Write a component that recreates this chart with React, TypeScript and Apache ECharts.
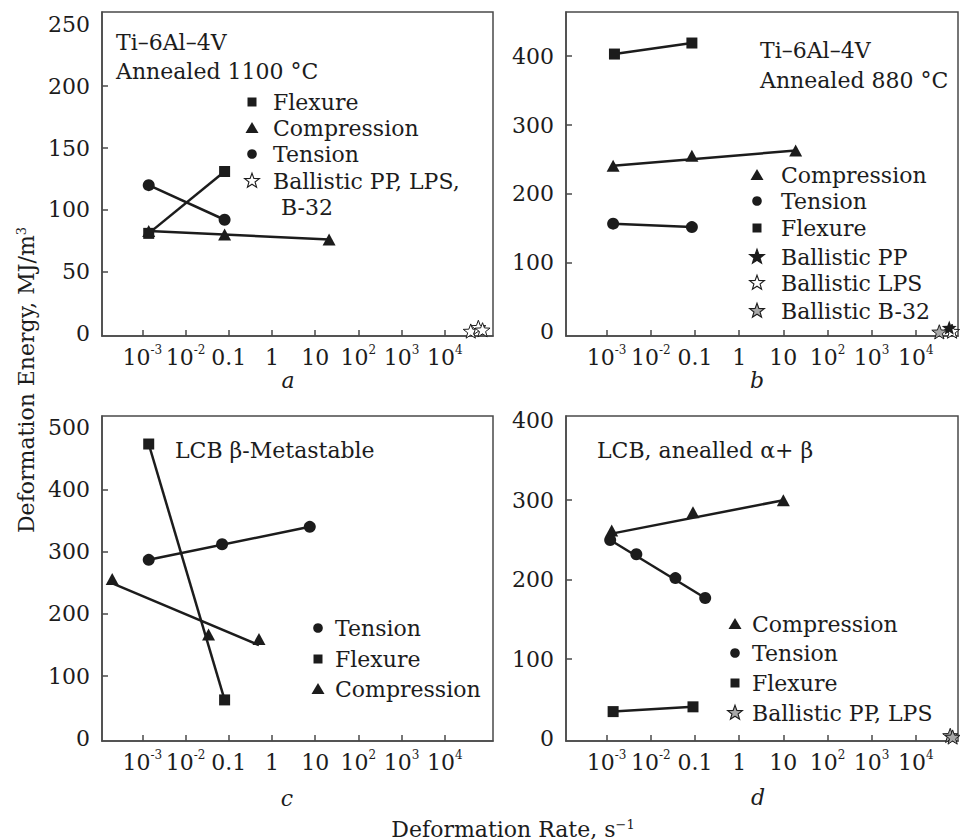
import React, { useEffect, useRef } from 'react';
import * as echarts from 'echarts';

const FONT = '"DejaVu Serif", "Liberation Serif", serif';
const INK = '#1c1c1c';
const AXIS = '#4a4a4a';
const GRAY = '#a8a8a8';
const FS = 22;

// ---- shared x axis (deformation rate, s^-1, log scale) ----
const xTickValues = [0.001, 0.01, 0.1, 1, 10, 100, 1000, 10000];
const xTickLabels = ['10{sup|-3}', '10{sup|-2}', '0.1', '1', '10', '10{sup|2}', '10{sup|3}', '10{sup|4}'];
const xRangeLeft = [1.16e-4, 1.31e5];
const xRangeRight = [1.2e-4, 9.0e4];

// ---- panel a: Ti-6Al-4V annealed 1100 °C ----
const aYRange = [-2, 260];
const aYTicks = [50, 100, 150, 200];
const aYLabels = [0, 50, 100, 150, 200, 250];
const aFlexure = [[0.0014, 81], [0.08, 131]];
const aCompression = [[0.0014, 83], [0.08, 80], [21, 76]];
const aTension = [[0.0014, 120], [0.08, 92]];
const aBallistic = [[40000, 2], [60000, 5], [75000, 3]];
const aTitle = ['Ti–6Al–4V', 'Annealed 1100 °C'];
const aLegend = ['Flexure', 'Compression', 'Tension', 'Ballistic PP, LPS,', 'B-32'];

// ---- panel b: Ti-6Al-4V annealed 880 °C ----
const bYRange = [-6, 464];
const bYTicks = [100, 200, 300, 400];
const bYLabels = [0, 100, 200, 300, 400];
const bCompression = [[0.0014, 241], [0.085, 255.5], [19, 263]];
const bTension = [[0.0014, 157], [0.085, 152]];
const bFlexure = [[0.0015, 403], [0.085, 419]];
const bBallisticPP = [[57000, 6]];
const bBallisticLPS = [[66000, 1]];
const bBallisticB32 = [[34000, 0]];
const bTitle = ['Ti–6Al–4V', 'Annealed 880 °C'];
const bLegend = ['Compression', 'Tension', 'Flexure', 'Ballistic PP', 'Ballistic LPS', 'Ballistic B-32'];

// ---- panel c: LCB beta-metastable ----
const cYRange = [-4, 518];
const cYTicks = [100, 200, 300, 400];
const cYLabels = [0, 100, 200, 300, 400, 500];
const cTension = [[0.0014, 287], [0.07, 312], [7.5, 340]];
const cFlexure = [[0.0014, 473], [0.08, 62]];
const cCompression = [[0.0002, 256], [0.034, 167], [0.5, 160]];
const cCompressionFit = [[0.00019, 250], [0.5, 150]];
const cTitle = 'LCB β-Metastable';
const cLegend = ['Tension', 'Flexure', 'Compression'];

// ---- panel d: LCB annealed alpha+beta ----
const dYRange = [-3, 406];
const dYTicks = [100, 200, 300];
const dYLabels = [0, 100, 200, 300, 400];
const dCompression = [[0.0013, 262], [0.09, 285], [10, 300]];
const dCompressionFit = [[0.0013, 258], [10, 300]];
const dTension = [[0.0012, 250], [0.0047, 232], [0.036, 202], [0.17, 177]];
const dFlexure = [[0.0014, 34], [0.09, 40]];
const dBallistic = [[60000, 4], [68000, 2]];
const dTitle = 'LCB, anealled α+ β';
const dLegend = ['Compression', 'Tension', 'Flexure', 'Ballistic PP, LPS'];

const panelLetters = ['a', 'b', 'c', 'd'];
const yTitle = 'Deformation Energy, MJ/m{sup|3}';
const xTitle = 'Deformation Rate, s{sup|−1}';

function starPoints(cx: number, cy: number, R: number, r: number) {
  const pts: number[][] = [];
  for (let k = 0; k < 10; k++) {
    const ang = -Math.PI / 2 + (k * Math.PI) / 5;
    const rad = k % 2 === 0 ? R : r;
    pts.push([cx + rad * Math.cos(ang), cy + rad * Math.sin(ang)]);
  }
  return pts;
}
const STAR_PATH =
  'path://' +
  starPoints(0, 0, 10, 4.1)
    .map((p, i) => (i ? 'L' : 'M') + p[0].toFixed(2) + ',' + p[1].toFixed(2))
    .join(' ') +
  ' Z';

const X_RICH = {
  b: { fontFamily: FONT, fontSize: FS, lineHeight: 26, color: INK },
  sup: { fontFamily: FONT, fontSize: 12, lineHeight: 9, verticalAlign: 'top', color: INK },
};

function fmtX(v: number) {
  const i = Math.round(Math.log10(v)) + 3;
  const s = xTickLabels[i];
  if (s === undefined) return '';
  return s.indexOf('{') >= 0 ? '{b|' + s.replace(/\{sup\|/, '}{sup|') : '{b|' + s + '}';
}

const GRIDS = [
  { left: 102, top: 12, width: 391, height: 324 },
  { left: 566, top: 12, width: 392, height: 324 },
  { left: 102, top: 416, width: 391, height: 325 },
  { left: 566, top: 416, width: 392, height: 325 },
];

function xAxisFor(i: number, range: number[]) {
  return {
    type: 'log',
    gridIndex: i,
    logBase: 10,
    min: range[0],
    max: range[1],
    axisLine: { show: true, onZero: false, lineStyle: { color: AXIS, width: 1.5 } },
    axisTick: { show: true, inside: true, length: 6, interval: 0, customValues: xTickValues, lineStyle: { color: AXIS, width: 1.5 } },
    axisLabel: {
      show: true,
      interval: 0,
      customValues: xTickValues,
      margin: 8,
      formatter: fmtX,
      rich: X_RICH,
      showMinLabel: true,
      showMaxLabel: true,
      hideOverlap: false,
    },
    splitLine: { show: false },
    minorTick: { show: false },
    minorSplitLine: { show: false },
  };
}

function yAxisFor(i: number, range: number[], ticks: number[], labels: number[]) {
  return {
    type: 'value',
    gridIndex: i,
    min: range[0],
    max: range[1],
    axisLine: { show: true, onZero: false, lineStyle: { color: AXIS, width: 1.5 } },
    axisTick: { show: true, inside: true, length: 6, customValues: ticks, lineStyle: { color: AXIS, width: 1.5 } },
    axisLabel: {
      show: true,
      interval: 0,
      customValues: labels,
      margin: 12,
      fontFamily: FONT,
      fontSize: FS,
      color: INK,
      showMinLabel: true,
      showMaxLabel: true,
      hideOverlap: false,
    },
    splitLine: { show: false },
  };
}

function fitLine(data: number[][], idx: number) {
  return {
    type: 'line',
    xAxisIndex: idx,
    yAxisIndex: idx,
    data: [data[0], data[data.length - 1]],
    symbol: 'none',
    silent: true,
    lineStyle: { color: INK, width: 2.5 },
    z: 2,
  };
}

function markers(name: string, data: number[][], idx: number, symbol: string, size: any, fill = INK) {
  return {
    type: 'scatter',
    name,
    xAxisIndex: idx,
    yAxisIndex: idx,
    data,
    symbol,
    symbolSize: size,
    symbolKeepAspect: true,
    clip: false,
    itemStyle: { color: fill, borderColor: INK, borderWidth: fill === INK ? 0 : 1, opacity: 1 },
    z: 3,
  };
}

const SQ = 11;
const CI = 12;
const TRI = [13, 12];
const ST = 15;

function txt(text: string, x: number, y: number, extra: any = {}) {
  return {
    type: 'text',
    x,
    y,
    silent: true,
    style: { text, x: 0, y: 0, fill: INK, fontFamily: FONT, fontSize: FS, align: 'left', verticalAlign: 'middle', ...extra },
  };
}

function mark(kind: string, cx: number, cy: number, fill = INK) {
  if (kind === 'square') return { type: 'rect', silent: true, shape: { x: cx - 4.5, y: cy - 4.5, width: 9, height: 9 }, style: { fill: INK } };
  if (kind === 'circle') return { type: 'circle', silent: true, shape: { cx, cy, r: 4.8 }, style: { fill: INK } };
  if (kind === 'triangle')
    return { type: 'polygon', silent: true, shape: { points: [[cx, cy - 6], [cx + 6.5, cy + 5], [cx - 6.5, cy + 5]] }, style: { fill: INK } };
  return { type: 'polygon', silent: true, shape: { points: starPoints(cx, cy, 7.8, 3.2) }, style: { fill, stroke: INK, lineWidth: 1.1 } };
}

function legendBlock(items: { kind: string; label: string; y: number; fill?: string }[], mx: number, tx: number) {
  const out: any[] = [];
  items.forEach((it) => {
    out.push(mark(it.kind, mx, it.y, it.fill));
    out.push(txt(it.label, tx, it.y));
  });
  return out;
}

const SUP_RICH = { sup: { fontFamily: FONT, fontSize: 13, lineHeight: 8, verticalAlign: 'top', fill: INK } };

function buildOption() {
  const series: any[] = [
    // a
    fitLine(aFlexure, 0), markers('a Flexure', aFlexure, 0, 'rect', SQ),
    fitLine(aCompression, 0), markers('a Compression', aCompression, 0, 'triangle', TRI),
    fitLine(aTension, 0), markers('a Tension', aTension, 0, 'circle', CI),
    markers('a Ballistic PP, LPS, B-32', aBallistic, 0, STAR_PATH, ST, '#ffffff'),
    // b
    fitLine(bFlexure, 1), markers('b Flexure', bFlexure, 1, 'rect', SQ),
    fitLine(bCompression, 1), markers('b Compression', bCompression, 1, 'triangle', TRI),
    fitLine(bTension, 1), markers('b Tension', bTension, 1, 'circle', CI),
    markers('b Ballistic B-32', bBallisticB32, 1, STAR_PATH, ST, GRAY),
    markers('b Ballistic LPS', bBallisticLPS, 1, STAR_PATH, ST, '#ffffff'),
    markers('b Ballistic PP', bBallisticPP, 1, STAR_PATH, ST, INK),
    // c
    fitLine(cFlexure, 2), markers('c Flexure', cFlexure, 2, 'rect', SQ),
    fitLine(cTension, 2), markers('c Tension', cTension, 2, 'circle', CI),
    fitLine(cCompressionFit, 2), markers('c Compression', cCompression, 2, 'triangle', TRI),
    // d
    fitLine(dFlexure, 3), markers('d Flexure', dFlexure, 3, 'rect', SQ),
    fitLine(dTension, 3), markers('d Tension', dTension, 3, 'circle', CI),
    fitLine(dCompressionFit, 3), markers('d Compression', dCompression, 3, 'triangle', TRI),
    markers('d Ballistic PP, LPS', dBallistic, 3, STAR_PATH, ST, GRAY),
  ];

  const graphic: any[] = [
    // panel titles
    txt(aTitle[0], 116, 42), txt(aTitle[1], 116, 71),
    txt(bTitle[0], 760, 50), txt(bTitle[1], 760, 80),
    txt(cTitle, 175, 450),
    txt(dTitle, 597, 450),
    // legends
    ...legendBlock(
      [
        { kind: 'square', label: aLegend[0], y: 102 },
        { kind: 'triangle', label: aLegend[1], y: 128 },
        { kind: 'circle', label: aLegend[2], y: 154 },
        { kind: 'star', label: aLegend[3], y: 181, fill: '#ffffff' },
      ],
      252, 273
    ),
    txt(aLegend[4], 281, 207),
    ...legendBlock(
      [
        { kind: 'triangle', label: bLegend[0], y: 175 },
        { kind: 'circle', label: bLegend[1], y: 201 },
        { kind: 'square', label: bLegend[2], y: 228 },
        { kind: 'star', label: bLegend[3], y: 257, fill: INK },
        { kind: 'star', label: bLegend[4], y: 283, fill: '#ffffff' },
        { kind: 'star', label: bLegend[5], y: 311, fill: GRAY },
      ],
      757, 781
    ),
    ...legendBlock(
      [
        { kind: 'circle', label: cLegend[0], y: 628 },
        { kind: 'square', label: cLegend[1], y: 659 },
        { kind: 'triangle', label: cLegend[2], y: 689 },
      ],
      318, 335
    ),
    ...legendBlock(
      [
        { kind: 'triangle', label: dLegend[0], y: 624 },
        { kind: 'circle', label: dLegend[1], y: 653 },
        { kind: 'square', label: dLegend[2], y: 683 },
        { kind: 'star', label: dLegend[3], y: 713, fill: GRAY },
      ],
      735, 752
    ),
    // panel letters
    txt(panelLetters[0], 288, 380, { fontStyle: 'italic', align: 'center' }),
    txt(panelLetters[1], 757, 380, { fontStyle: 'italic', align: 'center' }),
    txt(panelLetters[2], 287, 798, { fontStyle: 'italic', align: 'center' }),
    txt(panelLetters[3], 758, 797, { fontStyle: 'italic', align: 'center' }),
    // shared axis titles
    {
      type: 'text',
      x: 26,
      y: 380,
      rotation: Math.PI / 2,
      silent: true,
      style: { text: yTitle, x: 0, y: 0, align: 'center', verticalAlign: 'middle', fill: INK, fontFamily: FONT, fontSize: FS, rich: SUP_RICH },
    },
    {
      type: 'text',
      x: 513,
      y: 829,
      silent: true,
      style: { text: xTitle, x: 0, y: 0, align: 'center', verticalAlign: 'middle', fill: INK, fontFamily: FONT, fontSize: FS, rich: SUP_RICH },
    },
  ];

  return {
    animation: false,
    backgroundColor: '#ffffff',
    textStyle: { fontFamily: FONT },
    grid: GRIDS.map((g) => ({ ...g, show: true, borderColor: AXIS, borderWidth: 1.5, backgroundColor: 'transparent', containLabel: false })),
    xAxis: [xAxisFor(0, xRangeLeft), xAxisFor(1, xRangeRight), xAxisFor(2, xRangeLeft), xAxisFor(3, xRangeRight)],
    yAxis: [
      yAxisFor(0, aYRange, aYTicks, aYLabels),
      yAxisFor(1, bYRange, bYTicks, bYLabels),
      yAxisFor(2, cYRange, cYTicks, cYLabels),
      yAxisFor(3, dYRange, dYTicks, dYLabels),
    ],
    series,
    graphic,
  };
}

export default function App() {
  const ref = useRef<HTMLDivElement>(null);
  useEffect(() => {
    if (!ref.current) return;
    const chart = echarts.init(ref.current, undefined, { renderer: 'svg' });
    chart.setOption(buildOption() as any);
    return () => chart.dispose();
  }, []);
  return <div ref={ref} style={{ position: 'fixed', left: 0, top: 0, width: 960, height: 840, background: '#fff' }} />;
}
